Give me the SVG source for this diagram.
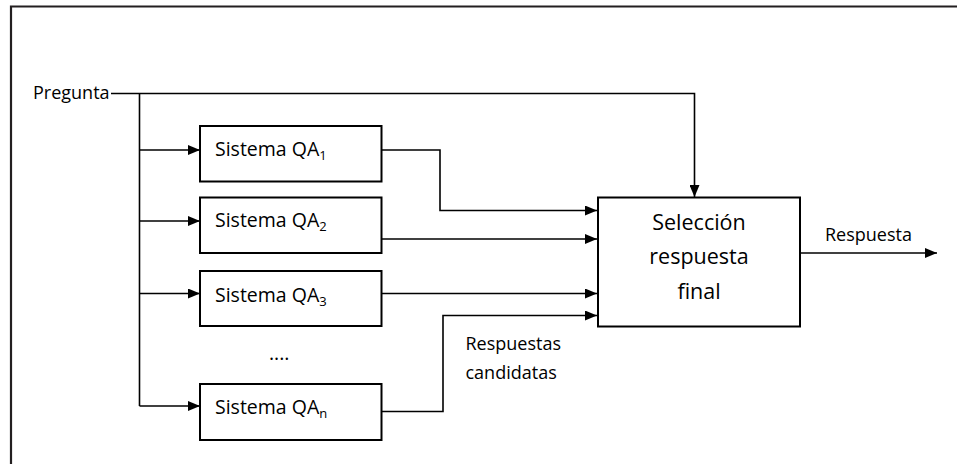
<svg xmlns="http://www.w3.org/2000/svg" width="957" height="464" viewBox="0 0 957 464">
  <style>
    .box { fill: #ffffff; stroke: #000000; stroke-width: 2; }
    .wire { fill: none; stroke: #000000; stroke-width: 1.6; }
    .lbl { font-family: "Open Sans", "Noto Sans", sans-serif; fill: #000000; }
    .sys { font-size: 19.5px; }
    .sub { font-size: 13px; }
    .big { font-size: 21.5px; }
    .small { font-size: 18px; }
  </style>
  <defs>
    <marker id="arrow" markerWidth="12" markerHeight="10" refX="12" refY="5" orient="auto" markerUnits="userSpaceOnUse">
      <path d="M0,0 L12,5 L0,10 Z" fill="#000000"/>
    </marker>
  </defs>

  <rect width="957" height="464" fill="#ffffff"/>
  <!-- frame: top and left edges only -->
  <path d="M11,464 V6.5 H957" fill="none" stroke="#231f20" stroke-width="2.2"/>

  <g id="connectors">
    <!-- question distribution -->
    <path class="wire" d="M111,93.5 H694.5 V197" marker-end="url(#arrow)"/>
    <path class="wire" d="M139.5,93.5 V406"/>
    <path class="wire" d="M139.5,150 H200" marker-end="url(#arrow)"/>
    <path class="wire" d="M139.5,221 H200" marker-end="url(#arrow)"/>
    <path class="wire" d="M139.5,293.5 H200" marker-end="url(#arrow)"/>
    <path class="wire" d="M139.5,406 H200" marker-end="url(#arrow)"/>
    <!-- candidate answers -->
    <path class="wire" d="M382,150 H440 V210.5 H597" marker-end="url(#arrow)"/>
    <path class="wire" d="M382,239 H597" marker-end="url(#arrow)"/>
    <path class="wire" d="M382,293.5 H597" marker-end="url(#arrow)"/>
    <path class="wire" d="M382,411.5 H443 V315.5 H597" marker-end="url(#arrow)"/>
    <!-- final answer -->
    <path class="wire" d="M800,253 H937" marker-end="url(#arrow)"/>
  </g>

  <g id="pregunta">
    <text class="lbl small" x="33" y="99">Pregunta</text>
  </g>

  <g id="qa1">
    <rect class="box" x="200" y="126" width="181.5" height="55.5"/>
    <text class="lbl sys" x="215" y="156">Sistema QA<tspan class="sub" dy="4">1</tspan></text>
  </g>
  <g id="qa2">
    <rect class="box" x="200" y="197.5" width="181.5" height="55.5"/>
    <text class="lbl sys" x="215" y="227">Sistema QA<tspan class="sub" dy="4">2</tspan></text>
  </g>
  <g id="qa3">
    <rect class="box" x="200" y="271" width="181.5" height="55"/>
    <text class="lbl sys" x="215" y="301.5">Sistema QA<tspan class="sub" dy="4">3</tspan></text>
  </g>
  <g id="dots">
    <text class="lbl sys" x="269" y="360">....</text>
  </g>
  <g id="qan">
    <rect class="box" x="200" y="384" width="181.5" height="56"/>
    <text class="lbl sys" x="215" y="413.5">Sistema QA<tspan class="sub" dy="4">n</tspan></text>
  </g>

  <g id="seleccion">
    <rect class="box" x="598" y="197.5" width="202" height="129"/>
    <text class="lbl big" text-anchor="middle" x="699" y="230">Selección</text>
    <text class="lbl big" text-anchor="middle" x="699" y="264">respuesta</text>
    <text class="lbl big" text-anchor="middle" x="699" y="298.5">final</text>
  </g>

  <g id="respuesta">
    <text class="lbl small" x="825" y="241">Respuesta</text>
  </g>

  <g id="candidatas">
    <text class="lbl small" x="465.5" y="349.5">Respuestas</text>
    <text class="lbl small" x="465.5" y="379">candidatas</text>
  </g>
</svg>
